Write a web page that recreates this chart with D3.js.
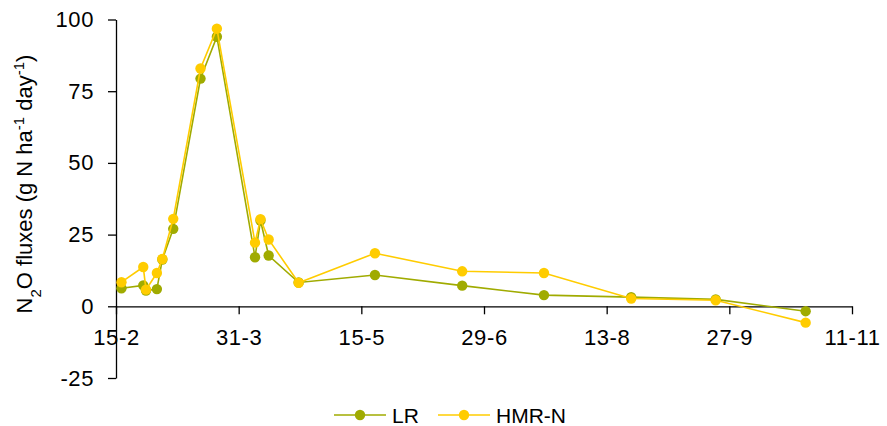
<!DOCTYPE html>
<html lang="en">
<head>
<meta charset="UTF-8">
<title>N2O fluxes</title>
<script src="https://cdn.jsdelivr.net/npm/d3@7"></script>
<style>
  body { margin: 0; background: #fff; }
  text { font-family: "Liberation Sans", Arial, sans-serif; fill: #000; }
</style>
</head>
<body>
<script>
// sampling dates (2016) and fluxes
var dates = ["2016-02-17","2016-02-25","2016-02-26","2016-03-01","2016-03-03","2016-03-07",
             "2016-03-17","2016-03-23","2016-04-06","2016-04-08","2016-04-11","2016-04-22",
             "2016-05-20","2016-06-21","2016-07-21","2016-08-22","2016-09-22","2016-10-25"];
var lr   = [6.3, 7.3, 5.5, 6.0, 16.3, 27.0, 79.4, 94.0, 17.1, 29.9, 17.7, 8.3, 10.9, 7.2, 3.9, 3.2, 2.4, -1.7];
var hmrN = [8.4, 13.7, 5.8, 11.6, 16.5, 30.5, 82.9, 96.8, 22.2, 30.4, 23.3, 8.2, 18.5, 12.2, 11.6, 2.7, 2.1, -5.7];
var xTicks = ["2016-02-15","2016-03-31","2016-05-15","2016-06-29","2016-08-13","2016-09-27","2016-11-11"];
var yTicks = [-25, 0, 25, 50, 75, 100];
var seriesNames = ["LR", "HMR-N"];
var colors = ["#a0ab00", "#ffcc00"];

var width = 887, height = 426;
var parse = d3.timeParse("%Y-%m-%d");

var svg = d3.select("body").append("svg")
    .attr("width", width)
    .attr("height", height);

var x = d3.scaleTime()
    .domain([parse(xTicks[0]), parse(xTicks[xTicks.length - 1])])
    .range([116, 852]);
var y = d3.scaleLinear()
    .domain([-25, 100])
    .range([378, 19.5]);

// y axis
var gy = svg.append("g")
    .attr("transform", "translate(" + x.range()[0] + ",0)")
    .call(d3.axisLeft(y).tickValues(yTicks).tickSize(8).tickPadding(14).tickSizeOuter(0)
        .tickFormat(function (d) { return String(d); }));
// x axis sits on zero
var gx = svg.append("g")
    .attr("transform", "translate(0," + y(0) + ")")
    .call(d3.axisBottom(x).tickValues(xTicks.map(parse)).tickSize(8).tickPadding(15)
        .tickSizeOuter(0).tickFormat(d3.timeFormat("%-d-%-m")));

[gx, gy].forEach(function (g) {
    g.selectAll("path, line").attr("stroke", "#000").attr("stroke-width", 1.3);
    g.selectAll("text")
        .style("font-size", "22px")
        .style("letter-spacing", "0.6px")
        .style("font-family", "'Liberation Sans', Arial, sans-serif");
});

// y title
var title = svg.append("text")
    .attr("transform", "translate(32,184) rotate(-90)")
    .attr("text-anchor", "middle")
    .style("font-size", "22px");
title.append("tspan").text("N");
title.append("tspan").attr("baseline-shift", "sub").style("font-size", "15px").text("2");
title.append("tspan").text("O fluxes (g N ha");
title.append("tspan").attr("baseline-shift", "super").style("font-size", "15px").text("-1");
title.append("tspan").text(" day");
title.append("tspan").attr("baseline-shift", "super").style("font-size", "15px").text("-1");
title.append("tspan").text(")");

// series
var series = [lr, hmrN].map(function (vals, k) {
    return {
        name: seriesNames[k],
        color: colors[k],
        points: vals.map(function (v, i) { return { date: parse(dates[i]), value: v }; })
    };
});

var line = d3.line()
    .x(function (d) { return x(d.date); })
    .y(function (d) { return y(d.value); });

var sg = svg.selectAll("g.series")
    .data(series)
    .enter().append("g")
    .attr("class", "series");

sg.append("path")
    .attr("d", function (d) { return line(d.points); })
    .attr("fill", "none")
    .attr("stroke", function (d) { return d.color; })
    .attr("stroke-width", 1.6);

sg.selectAll("circle")
    .data(function (d) { return d.points.map(function (p) { return { p: p, color: d.color }; }); })
    .enter().append("circle")
    .attr("cx", function (d) { return x(d.p.date); })
    .attr("cy", function (d) { return y(d.p.value); })
    .attr("r", 5.2)
    .attr("fill", function (d) { return d.color; });

// legend
var legendX = [334, 438];
var lg = svg.selectAll("g.legend")
    .data(series)
    .enter().append("g")
    .attr("class", "legend")
    .attr("transform", function (d, i) { return "translate(" + legendX[i] + ",415)"; });
lg.append("line")
    .attr("x1", 0).attr("x2", 52)
    .attr("stroke", function (d) { return d.color; })
    .attr("stroke-width", 1.6);
lg.append("circle")
    .attr("cx", 26).attr("r", 5.2)
    .attr("fill", function (d) { return d.color; });
lg.append("text")
    .attr("x", 58)
    .attr("dy", "0.36em")
    .style("font-size", "21px")
    .text(function (d) { return d.name; });
</script>
</body>
</html>
